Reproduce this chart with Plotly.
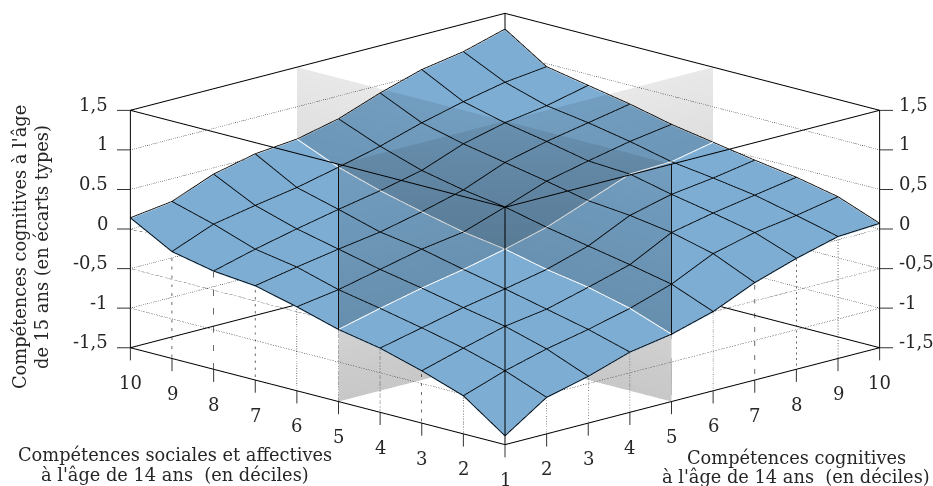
import numpy as np
import plotly.graph_objects as go

deciles = list(range(1, 11))
z_ticks = [-1.5, -1, -0.5, 0, 0.5, 1, 1.5]
z_labels_left = ["-1,5", "-1", "-0,5", "0", "0.5", "1", "1,5"]
z_labels_right = ["-1,5", "-1", "-0,5", "0", "0,5", "1", "1,5"]

# rows: social decile 1..10 ; columns: cognitive decile 1..10
scores = [
    [-1.40, -1.05, -0.92, -0.75, -0.66, -0.51, -0.28, -0.11, 0.03, 0.06],
    [-1.03, -0.85, -0.71, -0.60, -0.47, -0.30, -0.05, 0.08, 0.16, 0.26],
    [-0.85, -0.70, -0.56, -0.48, -0.34, -0.19, 0.08, 0.19, 0.28, 0.37],
    [-0.70, -0.58, -0.46, -0.36, -0.25, -0.09, 0.16, 0.29, 0.36, 0.45],
    [-0.60, -0.47, -0.35, -0.25, -0.13, 0.01, 0.21, 0.41, 0.43, 0.54],
    [-0.45, -0.37, -0.25, -0.13, -0.05, 0.13, 0.32, 0.44, 0.55, 0.63],
    [-0.32, -0.22, -0.13, -0.05, 0.07, 0.21, 0.42, 0.55, 0.65, 0.75],
    [-0.27, -0.13, -0.01, 0.10, 0.20, 0.32, 0.52, 0.65, 0.73, 0.85],
    [-0.16, 0.05, 0.15, 0.24, 0.36, 0.49, 0.65, 0.78, 0.89, 0.95],
    [0.13, 0.20, 0.41, 0.53, 0.58, 0.70, 0.89, 1.05, 1.14, 1.29],
]

Z = np.array(scores)
D = np.array(deciles, dtype=float)
LO, HI = -1.5, 1.5
LIFT = 0.012
P = 5
FONT = "DejaVu Serif"
TXT = "#262626"
DOT = "#111111"

fig = go.Figure()


def line(xs, ys, zs, color="black", width=2, dash="solid"):
    fig.add_trace(go.Scatter3d(x=xs, y=ys, z=zs, mode="lines",
                               line=dict(color=color, width=width, dash=dash),
                               hoverinfo="skip", showlegend=False))


# surface
fig.add_trace(go.Surface(
    x=D, y=D, z=Z, showscale=False,
    colorscale=[[0, "#7dadd3"], [1, "#7dadd3"]],
    lighting=dict(ambient=1, diffuse=0, specular=0, roughness=1, fresnel=0),
    hoverinfo="skip",
    contours=dict(x=dict(show=False), y=dict(show=False), z=dict(show=False)),
))

# surface mesh lines (decile 5 is drawn in white further down)
for k, d in enumerate(deciles):
    if d == P:
        continue
    line([d] * 10, deciles, Z[:, k] + LIFT, "black", 1.7)
    line(deciles, [d] * 10, Z[k, :] + LIFT, "black", 1.7)

# dotted gridlines on the back walls
for v in z_ticks[1:-1]:
    line([1, 10], [10, 10], [v, v], DOT, 1.2, "dot")
    line([10, 10], [1, 10], [v, v], DOT, 1.2, "dot")

# dotted gridlines on the front faces, below the surface edge only
for v in [-1, -0.5, 0]:
    y_cross = float(np.interp(v, Z[:, 0], D))
    line([1, 1], [y_cross, 10], [v, v], DOT, 1.2, "dot")
    x_cross = float(np.interp(v, Z[0, :], D))
    line([x_cross, 10], [1, 1], [v, v], DOT, 1.2, "dot")

# dotted verticals below the surface edge
for k in range(1, 9):
    d = deciles[k]
    line([1, 1], [d, d], [LO, Z[k, 0]], DOT, 1.2, "dot")
    line([d, d], [1, 1], [LO, Z[0, k]], DOT, 1.2, "dot")

# box
line([1, 10, 10, 1, 1], [1, 1, 10, 10, 1], [LO] * 5)
line([1, 10, 10, 1, 1], [1, 1, 10, 10, 1], [HI] * 5)
line([1, 1], [10, 10], [LO, HI])
line([10, 10], [1, 1], [LO, HI])
line([1, 1], [1, 1], [LO, HI])
line([10, 10], [10, 10], [LO, HI])

# translucent planes at decile 5
TOP, BOT = "rgba(0,0,0,0.09)", "rgba(0,0,0,0.22)"
mesh_light = dict(ambient=1, diffuse=0, specular=0, fresnel=0)
fig.add_trace(go.Mesh3d(x=[P, P, P, P], y=[1, 10, 10, 1], z=[LO, LO, HI, HI],
                        i=[0, 0], j=[1, 2], k=[2, 3],
                        vertexcolor=[BOT, BOT, TOP, TOP], opacity=0.99,
                        lighting=mesh_light, hoverinfo="skip", showlegend=False))
fig.add_trace(go.Mesh3d(x=[1, 10, 10, 1], y=[P, P, P, P], z=[LO, LO, HI, HI],
                        i=[0, 0], j=[1, 2], k=[2, 3],
                        vertexcolor=[BOT, BOT, TOP, TOP], opacity=0.99,
                        lighting=mesh_light, hoverinfo="skip", showlegend=False))

# plane / surface intersections
line([P] * 10, deciles, Z[:, P - 1] + LIFT, "#ffffff", 2)
line(deciles, [P] * 10, Z[P - 1, :] + LIFT, "#ffffff", 2)
# plane front edges above the surface
line([P, P], [1, 1], [Z[0, P - 1], HI], "#111111", 2)
line([1, 1], [P, P], [Z[P - 1, 0], HI], "#111111", 2)

# tick marks
dz = 0.16
for v in z_ticks:
    line([1 - dz, 1], [10 + dz, 10], [v, v], "#333333", 2)
    line([10 + dz, 10], [1 - dz, 1], [v, v], "#333333", 2)
for d in deciles:
    line([1, 1], [d, d], [LO, LO - 0.16], "#333333", 2)
    line([d, d], [1, 1], [LO, LO - 0.16], "#333333", 2)

ann = []
tf = dict(family=FONT, size=18, color=TXT)
for v, a, b in zip(z_ticks, z_labels_left, z_labels_right):
    ann.append(dict(x=1, y=10, z=v, text=a, showarrow=False, xanchor="right",
                    xshift=-20, yshift=6, font=tf))
    ann.append(dict(x=10, y=1, z=v, text=b, showarrow=False, xanchor="left",
                    xshift=17, yshift=6, font=tf))
for d in deciles:
    ann.append(dict(x=1, y=d, z=LO, text=str(d), showarrow=False, yshift=-35, font=tf))
    if d > 1:
        ann.append(dict(x=d, y=1, z=LO, text=str(d), showarrow=False, yshift=-35, font=tf))

ax = dict(visible=False, showgrid=False, zeroline=False, showticklabels=False,
          showspikes=False, showbackground=False, title="")
r = 3.0
el = np.radians(15)
fig.update_layout(
    width=933, height=486,
    margin=dict(l=0, r=0, t=0, b=0),
    paper_bgcolor="white",
    showlegend=False,
    scene=dict(
        domain=dict(x=[0.0826, 1], y=[0.0576, 1]),
        xaxis=dict(range=[0, 11], **ax),
        yaxis=dict(range=[0, 11], **ax),
        zaxis=dict(range=[-2, 2], **ax),
        aspectmode="manual",
        aspectratio=dict(x=2.828, y=2.828, z=1.431),
        camera=dict(
            projection=dict(type="orthographic"),
            center=dict(x=0, y=0, z=0),
            up=dict(x=0, y=0, z=1),
            eye=dict(x=-r * np.cos(el) / np.sqrt(2), y=-r * np.cos(el) / np.sqrt(2), z=r * np.sin(el)),
        ),
        annotations=ann,
    ),
)


def label(text, px, py, angle=0):
    fig.add_annotation(text=text, x=px / 933, y=1 - py / 486, xref="paper", yref="paper",
                       xanchor="center", yanchor="middle", showarrow=False, textangle=angle,
                       font=dict(family=FONT, size=17.8, color=TXT))


label("Compétences cognitives à l'âge", 20, 247, -90)
label("de 15 ans (en écarts types)", 42, 247, -90)
label("Compétences sociales et affectives", 175, 454)
label("à l'âge de 14 ans  (en déciles)", 175, 474)
label("Compétences cognitives", 796, 457)
label("à l'âge de 14 ans  (en déciles)", 796, 476)
fig.write_html("out.html", config={"displayModeBar": False},
               post_script="document.body.style.margin='0';document.body.style.overflow='hidden';")
